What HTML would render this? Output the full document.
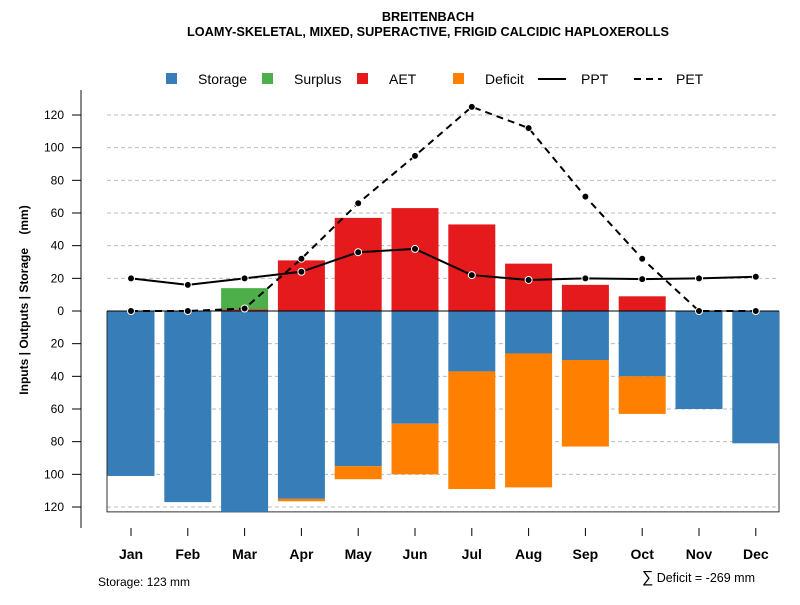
<!DOCTYPE html>
<html><head><meta charset="utf-8"><style>
body{margin:0;background:#fff}
svg text{font-family:"Liberation Sans",sans-serif}
</style></head><body>
<svg id="c" width="800" height="600" viewBox="0 0 800 600" xmlns="http://www.w3.org/2000/svg">
<text x="428" y="21" text-anchor="middle" font-size="12.7" font-weight="bold">BREITENBACH</text>
<text x="428" y="36" text-anchor="middle" font-size="12.7" font-weight="bold">LOAMY-SKELETAL, MIXED, SUPERACTIVE, FRIGID CALCIDIC HAPLOXEROLLS</text>
<g id="grid"></g><g id="bars"></g><g id="lines"></g><g id="axes"></g>
<g font-size="14">
<rect x="166" y="73" width="11" height="11" fill="#377eb8"/><text x="198" y="84">Storage</text>
<rect x="262" y="73" width="11" height="11" fill="#4daf4a"/><text x="294" y="84">Surplus</text>
<rect x="357" y="73" width="11" height="11" fill="#e41a1c"/><text x="389" y="84">AET</text>
<rect x="453" y="73" width="11" height="11" fill="#ff7f00"/><text x="485" y="84">Deficit</text>
<line x1="538" y1="79" x2="566" y2="79" stroke="#000" stroke-width="2"/><text x="581" y="84">PPT</text>
<line x1="634" y1="79" x2="662" y2="79" stroke="#000" stroke-width="2" stroke-dasharray="7,5"/><text x="676" y="84">PET</text>
</g>
<text transform="translate(28,300) rotate(-90)" text-anchor="middle" font-size="12" font-weight="bold" xml:space="preserve" style="white-space:pre">Inputs | Outputs | Storage    (mm)</text>
<text x="98" y="586" font-size="12">Storage: 123 mm</text>
<text x="755" y="582" text-anchor="end" font-size="12.5"><tspan font-size="16">∑</tspan> Deficit = -269 mm</text>
</svg>
<script>
const months=["Jan","Feb","Mar","Apr","May","Jun","Jul","Aug","Sep","Oct","Nov","Dec"];
const storage=[101,117,123,115,95,69,37,26,30,40,60,81];
const deficit=[0,0,0,1.5,8,31,72,82,53,23,0,0];
const aet=[0,0,1,31,57,63,53,29,16,9,0,0];
const surplus=[0,0,13,0,0,0,0,0,0,0,0,0];
const ppt=[20,16,20,24,36,38,22,19,20,19.5,20,21];
const pet=[0,0,1.5,32,66,95,125,112,70,32,0,0];
const yTickVals=[120,100,80,60,40,20,0,-20,-40,-60,-80,-100,-120];
const NS="http://www.w3.org/2000/svg";
const y=v=>311-v*196/120;
const x=i=>131+i*56.8;
const bw=47;
function mk(p,t,a){const e=document.createElementNS(NS,t);for(const k in a)e.setAttribute(k,a[k]);document.getElementById(p).appendChild(e);return e;}
yTickVals.forEach(v=>{if(v===0)return;
 const g=mk('grid','line',{x1:107,x2:779,y1:y(v),y2:y(v),stroke:'#bbb','stroke-dasharray':'4,3'});
 
 });
const bx=mk('grid','path',{d:`M107 ${y(0)} V${y(-123)} H779 V${y(0)}`,fill:'none',stroke:'#333'});


months.forEach((m,i)=>{
 const s=mk('bars','rect',{x:x(i)-bw/2,y:y(0),width:bw,height:y(-storage[i])-y(0),fill:'#377eb8'});
 
 
 if(deficit[i]>0){const d=mk('bars','rect',{x:x(i)-bw/2,y:y(-storage[i]),width:bw,height:y(-storage[i]-deficit[i])-y(-storage[i]),fill:'#ff7f00'});
 
 }
 if(aet[i]>0){const a=mk('bars','rect',{x:x(i)-bw/2,y:y(aet[i]),width:bw,height:y(0)-y(aet[i]),fill:'#e41a1c'});
 
 }
 if(surplus[i]>0){const u=mk('bars','rect',{x:x(i)-bw/2,y:y(aet[i]+surplus[i]),width:bw,height:y(aet[i])-y(aet[i]+surplus[i]),fill:'#4daf4a'});
 
 }
});
const z=mk('bars','line',{x1:107,x2:779,y1:y(0),y2:y(0),stroke:'#000'});


[[pet,'7,5','pet'],[ppt,'','ppt']].forEach(([arr,da,n])=>{
 const l=mk('lines','polyline',{points:arr.map((v,i)=>x(i)+','+y(v)).join(' '),fill:'none',stroke:'#000','stroke-width':2,'stroke-dasharray':da});
 
 
 arr.forEach((v,i)=>{const c=mk('lines','circle',{cx:x(i),cy:y(v),r:3.5,fill:'#000',stroke:'#fff','stroke-width':1});
 
 });
});
const ax=mk('axes','line',{x1:81,x2:81,y1:90,y2:528,stroke:'#888','stroke-width':2});


yTickVals.forEach(v=>{
 const t=mk('axes','line',{x1:72,x2:81,y1:y(v),y2:y(v),stroke:'#000'});
 
 
 const tx=mk('axes','text',{x:64,y:y(v)+4,'text-anchor':'end','font-size':12});
 tx.textContent=Math.abs(v);
 
 });
months.forEach((m,i)=>{
 const t=mk('axes','line',{x1:x(i),x2:x(i),y1:528,y2:536,stroke:'#000'});
 
 
 const tx=mk('axes','text',{x:x(i),y:559,'text-anchor':'middle','font-size':14,'font-weight':'bold'});
 tx.textContent=m;
 
 });
</script>
</body></html>
